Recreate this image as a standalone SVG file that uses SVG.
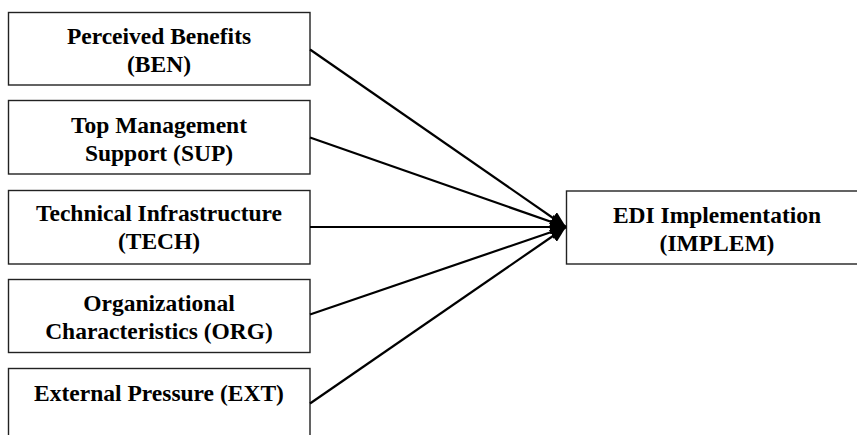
<svg xmlns="http://www.w3.org/2000/svg" width="857" height="435" viewBox="0 0 857 435">
<style>
.box{fill:#fff;stroke:#222;stroke-width:1.4}
.t{font-family:"Liberation Serif","Times New Roman",serif;font-weight:bold;font-size:23.5px;text-anchor:middle;fill:#000}
.c{stroke:#000;stroke-width:2.2;fill:none}
</style>
<defs>
<marker id="ah" markerUnits="userSpaceOnUse" markerWidth="18" markerHeight="14" refX="16" refY="7" orient="auto">
<path d="M0,0 L16,7 L0,14 Z" fill="#000"/>
</marker>
</defs>
<rect width="857" height="435" fill="#fff"/>
<g id="ben"><rect class="box" x="8.5" y="12.5" width="301.5" height="72.5"/><text class="t" x="159" y="44">Perceived Benefits</text><text class="t" x="159" y="72">(BEN)</text></g>
<g id="sup"><rect class="box" x="8.5" y="100.5" width="301.5" height="73.5"/><text class="t" x="159" y="132.5">Top Management</text><text class="t" x="159" y="160.5">Support (SUP)</text></g>
<g id="tech"><rect class="box" x="8.5" y="190.5" width="301.5" height="73.5"/><text class="t" x="159" y="221">Technical Infrastructure</text><text class="t" x="159" y="249">(TECH)</text></g>
<g id="org"><rect class="box" x="8.5" y="279.5" width="301.5" height="73"/><text class="t" x="159" y="311">Organizational</text><text class="t" x="159" y="339">Characteristics (ORG)</text></g>
<g id="ext"><rect class="box" x="8.5" y="368.5" width="301.5" height="80"/><text class="t" x="159" y="401">External Pressure (EXT)</text></g>
<g id="implem"><rect class="box" x="566.5" y="191" width="310" height="73"/><text class="t" x="717" y="222.5">EDI Implementation</text><text class="t" x="717" y="250.5">(IMPLEM)</text></g>
<g id="connectors">
<line class="c" x1="310" y1="49.5" x2="566" y2="227" marker-end="url(#ah)"/>
<line class="c" x1="310" y1="137.5" x2="566" y2="227" marker-end="url(#ah)"/>
<line class="c" x1="310" y1="227" x2="566" y2="227" marker-end="url(#ah)"/>
<line class="c" x1="310" y1="314.5" x2="566" y2="227" marker-end="url(#ah)"/>
<line class="c" x1="310" y1="403.5" x2="566" y2="227" marker-end="url(#ah)"/>
</g>
</svg>
